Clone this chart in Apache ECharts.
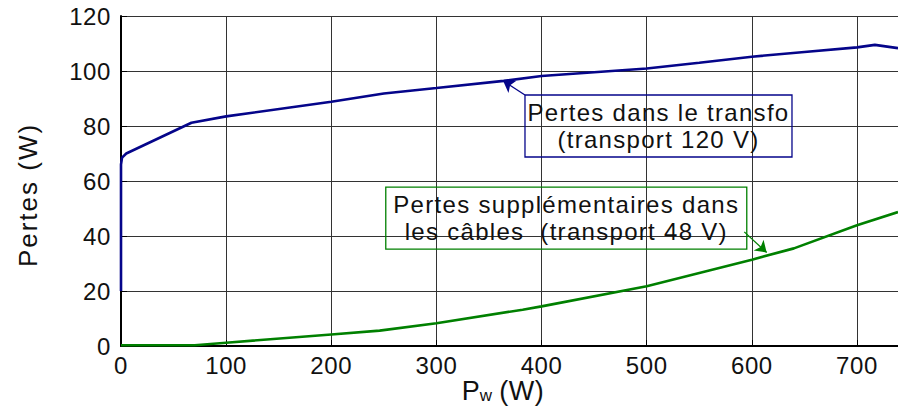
<!DOCTYPE html>
<html><head><meta charset="utf-8">
<script src="https://cdn.jsdelivr.net/npm/echarts@6/dist/echarts.min.js"></script>
<style>html,body{margin:0;padding:0;background:#fff}#c{width:898px;height:408px}</style>
</head><body><div id="c"></div>
<script>
// P_w (W) values and losses (W)
const transfoX = [0, 0, 1, 5, 67, 100, 200, 250, 300, 364, 400, 500, 550, 600, 650, 700, 717, 739];
const transfoY = [20, 66, 68.5, 70, 81.2, 83.5, 88.8, 91.8, 93.8, 96.4, 98.2, 100.9, 103.0, 105.2, 106.9, 108.6, 109.5, 108.3];
const cableX = [0, 70, 100, 200, 246, 300, 382, 400, 500, 600, 640, 700, 739];
const cableY = [0.3, 0.3, 1.2, 4.2, 5.6, 8.3, 13.2, 14.4, 21.7, 31.4, 35.5, 43.9, 48.7];
const xMin = 0, xMax = 739, xStep = 100;
const yMin = 0, yMax = 120, yStep = 20;
const yName = 'Pertes (W)';
const transfoText = ['Pertes dans le transfo', '(transport 120 V)'];
const cableText = ['Pertes supplémentaires dans', 'les câbles  (transport 48 V)'];
const transfoBoxAt = [511.2, 80.0];
const cableBoxAt = [423.5, 46.5];
const transfoArrow = [[384.2, 91.3], [363.5, 96.4]];
const cableArrow = [[592.8, 41.5], [614.1, 34.0]];

const FONT = 'Liberation Sans, Arial, Helvetica, sans-serif';
const BLUE = '#05058a', GREEN = '#008000';

function zip(xs, ys) { return xs.map((x, i) => [x, ys[i]]); }

const chart = echarts.init(document.getElementById('c'), null, { renderer: 'svg' });
function annot(at, lines, color, w) {
  return {
    symbol: 'rect', symbolSize: 1, itemStyle: { color: 'rgba(0,0,0,0)' },
    data: [{ coord: at }],
    label: {
      show: true, position: 'inside', formatter: lines.join('\n'),
      fontFamily: FONT, fontSize: 24, lineHeight: 27, color: '#111', align: 'center',
      width: w, height: 54,
      borderColor: color, borderWidth: 1.3, padding: [4, 4, 4, 4]
    }
  };
}
function arrow(seg, color) {
  return {
    silent: true, symbol: ['none', 'arrow'], symbolSize: 11,
    label: { show: false },
    itemStyle: { color: color },
    lineStyle: { color: color, width: 1.3, type: 'solid' },
    data: [[{ coord: seg[0] }, { coord: seg[1] }]]
  };
}
chart.setOption({
  animation: false,
  backgroundColor: '#fff',
  grid: { left: 121, top: 16, width: 777, height: 330, outerBoundsMode: 'none', containLabel: false },
  xAxis: {
    type: 'value', min: xMin, max: xMax, interval: xStep,
    name: '{a|P}{b|w}{a| (W)}', nameLocation: 'middle', nameGap: 31, nameMoveOverlap: false,
    nameTextStyle: { padding: [0, 14, 0, 0], rich: {
      a: { fontFamily: FONT, fontSize: 27, lineHeight: 27, color: '#111' },
      b: { fontFamily: FONT, fontSize: 17, lineHeight: 17, color: '#111', verticalAlign: 'bottom' }
    } },
    axisLine: { show: true, onZero: false, lineStyle: { color: '#000', width: 2 } },
    axisTick: { show: true, inside: true, length: 6, lineStyle: { color: '#000' } },
    axisLabel: { fontFamily: FONT, fontSize: 24, color: '#111', margin: 7, showMaxLabel: false },
    splitLine: { show: true, lineStyle: { color: '#333', width: 1 } }
  },
  yAxis: {
    type: 'value', min: yMin, max: yMax, interval: yStep,
    name: yName, nameLocation: 'middle', nameGap: 80, nameMoveOverlap: false,
    nameTextStyle: { fontFamily: FONT, fontSize: 26, color: '#111', padding: [0, 28, 0, 0] },
    axisLine: { show: true, lineStyle: { color: '#000', width: 2 } },
    axisTick: { show: true, inside: true, length: 6, lineStyle: { color: '#000' } },
    axisLabel: { fontFamily: FONT, fontSize: 24, color: '#111', margin: 10 },
    splitLine: { show: true, lineStyle: { color: '#333', width: 1 } }
  },
  series: [
    { type: 'line', data: zip(transfoX, transfoY), showSymbol: false, symbol: 'none',
      lineStyle: { color: BLUE, width: 2.6 }, itemStyle: { color: BLUE },
      markPoint: annot(transfoBoxAt, transfoText, BLUE, 259), markLine: arrow(transfoArrow, BLUE) },
    { type: 'line', data: zip(cableX, cableY), showSymbol: false, symbol: 'none',
      lineStyle: { color: GREEN, width: 2.6 }, itemStyle: { color: GREEN },
      markPoint: annot(cableBoxAt, cableText, GREEN, 353), markLine: arrow(cableArrow, GREEN) }
  ]
});
function spacing() {
  document.querySelectorAll('#c text').forEach(t => {
    const s = t.textContent || '';
    let ls = 0.6;
    if (s.indexOf(yName) >= 0) ls = 2;
    else if (/[A-Za-zé]/.test(s) && s.length > 6) ls = 1.3;
    else if (/W\)|^P$|^w$/.test(s)) ls = 0.5;
    t.style.letterSpacing = ls + 'px';
  });
}
spacing();
chart.on('finished', spacing);
</script></body></html>
